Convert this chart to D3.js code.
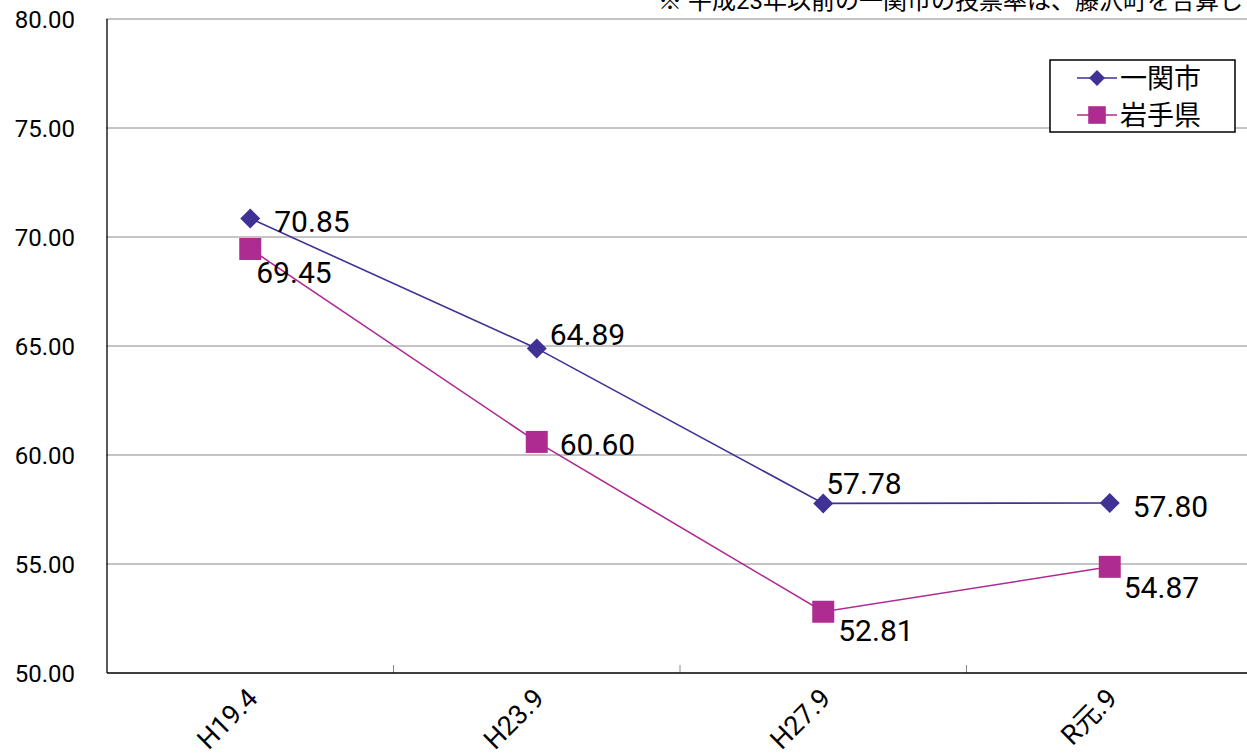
<!DOCTYPE html>
<html>
<head>
<meta charset="utf-8">
<script src="https://cdn.jsdelivr.net/npm/d3@7"></script>
<style>
  body { margin: 0; background: #fff; }
  svg { display: block; font-family: Roboto, "Noto Sans CJK JP", sans-serif; }
</style>
</head>
<body>
<svg id="chart" width="1247" height="755"></svg>
<script>
// election turnout, 一関市 vs 岩手県
const categories = ["H19.4", "H23.9", "H27.9", "R元.9"]
const ichinoseki = [70.85, 64.89, 57.78, 57.80]
const iwate = [69.45, 60.60, 52.81, 54.87]
const yTicks = [50, 55, 60, 65, 70, 75, 80]
const note = "※ 平成23年以前の一関市の投票率は、藤沢町を合算しています。"

const series = [
  {name: "一関市", values: ichinoseki, color: "#3f3195", shape: "diamond",
    // label offsets from the point
    offsets: [[24, 3], [13, -14], [3, -20], [23, 3]]},
  {name: "岩手県", values: iwate, color: "#ae2b92", shape: "square",
    offsets: [[6, 23], [23, 2], [15, 18], [14, 20]]}
]

const svg = d3.select("#chart")
const plotLeft = 107, plotTop = 19, plotBottom = 673
const bw = 286.5

const x = d3.scaleBand().domain(categories).range([plotLeft, plotLeft + bw * categories.length])
const y = d3.scaleLinear().domain([50, 80]).range([plotBottom, plotTop])
const cx = c => x(c) + x.bandwidth() / 2

//gridlines
svg.append("g")
  .selectAll("line")
  .data(yTicks.filter(d => d > 50))
  .join("line")
  .attr("x1", plotLeft - 1).attr("x2", 1247)
  .attr("y1", d => y(d)).attr("y2", d => y(d))
  .attr("stroke", "#8a8a8a").attr("stroke-width", 1)

//y labels
svg.append("g")
  .selectAll("text")
  .data(yTicks)
  .join("text")
  .attr("x", 75).attr("y", d => y(d) + 9)
  .attr("text-anchor", "end")
  .attr("font-size", 24)
  .attr("fill", "#000")
  .text(d => d3.format(".2f")(d))

//category separators
svg.append("g")
  .selectAll("line")
  .data(categories.slice(1))
  .join("line")
  .attr("x1", d => x(d)).attr("x2", d => x(d))
  .attr("y1", plotBottom - 8).attr("y2", plotBottom)
  .attr("stroke", "#8a8a8a")

//axes
svg.append("line").attr("x1", plotLeft).attr("x2", plotLeft).attr("y1", plotTop).attr("y2", plotBottom)
  .attr("stroke", "#000").attr("stroke-width", 1.3)
svg.append("line").attr("x1", plotLeft).attr("x2", 1247).attr("y1", plotBottom).attr("y2", plotBottom)
  .attr("stroke", "#000").attr("stroke-width", 1.3)

//x labels
svg.append("g")
  .selectAll("text")
  .data(categories)
  .join("text")
  .attr("transform", d => `translate(${cx(d) + 9},${plotBottom + 27}) rotate(-45)`)
  .attr("text-anchor", "end")
  .attr("font-size", 27)
  .attr("fill", "#000")
  .text(d => d)

const line = d3.line().x((d, i) => cx(categories[i])).y(d => y(d))
const diamond = "M0,-10L10,0L0,10L-10,0Z"
const square = "M-11,-11H11V11H-11Z"

series.forEach(s => {
  svg.append("path")
    .datum(s.values)
    .attr("fill", "none")
    .attr("stroke", s.color)
    .attr("stroke-width", 1.6)
    .attr("d", line)
})

series.forEach(s => {
  svg.append("g")
    .selectAll("path")
    .data(s.values)
    .join("path")
    .attr("transform", (d, i) => `translate(${cx(categories[i])},${y(d)})`)
    .attr("d", s.shape === "diamond" ? diamond : square)
    .attr("fill", s.color)

  svg.append("g")
    .selectAll("text")
    .data(s.values)
    .join("text")
    .attr("x", (d, i) => cx(categories[i]) + s.offsets[i][0])
    .attr("y", (d, i) => y(d) + s.offsets[i][1] + 11)
    .attr("font-size", 30)
    .attr("fill", "#000")
    .text(d => d3.format(".2f")(d))
})

//legend
const lg = svg.append("g").attr("transform", "translate(1050,60)")
lg.append("rect").attr("width", 185).attr("height", 72)
  .attr("fill", "#fff").attr("stroke", "#000").attr("stroke-width", 1.5)
series.forEach((s, i) => {
  const g = lg.append("g").attr("transform", `translate(0,${18 + i * 37})`)
  g.append("line").attr("x1", 27).attr("x2", 67).attr("stroke", s.color).attr("stroke-width", 1.6)
  g.append("path").attr("transform", "translate(47,0) scale(0.8)")
    .attr("d", s.shape === "diamond" ? diamond : square).attr("fill", s.color)
  g.append("text").attr("x", 70).attr("y", 10).attr("font-size", 27).attr("fill", "#000").text(s.name)
})

//note, clipped at the top right
svg.append("text")
  .attr("x", 658).attr("y", 9)
  .attr("font-size", 24)
  .attr("fill", "#000")
  .text(note)
</script>
</body>
</html>
